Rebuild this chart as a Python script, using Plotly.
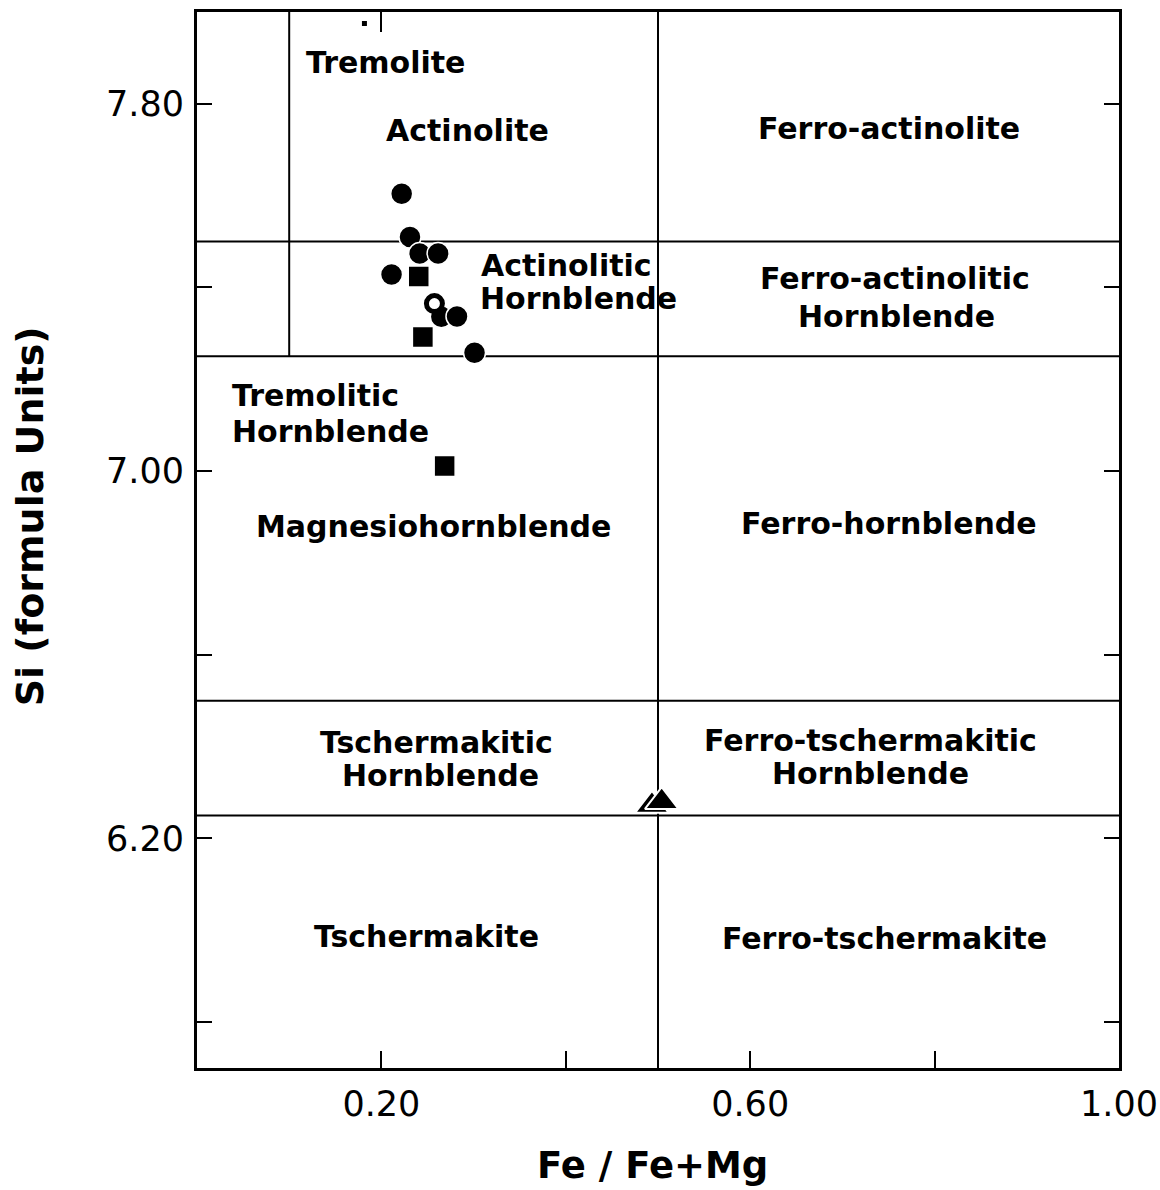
import plotly.graph_objects as go

# ---- data ----
circle_fe = [0.222, 0.231, 0.2415, 0.2615, 0.211, 0.265, 0.282, 0.301]
circle_si = [7.604, 7.510, 7.474, 7.474, 7.428, 7.336, 7.337, 7.258]
open_fe = [0.2575]
open_si = [7.365]
square_fe = [0.2405, 0.245, 0.2686]
square_si = [7.424, 7.292, 7.011]
triangle_fe = [0.4934, 0.504]
triangle_si = [6.272, 6.280]
small_fe = [0.1816]
small_si = [7.975]

si_bounds = [7.5, 7.25, 6.5, 6.25]
fe_bound = 0.5
trem_fe = 0.1
trem_si_range = [7.25, 8.0]
x_range = [0.0, 1.0]
y_range = [5.7, 8.0]

x_tickvals = [0.2, 0.4, 0.6, 0.8, 1.0]
x_ticktext = ["0.20", "", "0.60", "", "1.00"]
y_tickvals = [5.8, 6.2, 6.6, 7.0, 7.4, 7.8]
y_ticktext = ["", "6.20", "", "7.00", "", "7.80"]

# label text, x, y, anchor
labels = [
    ("Tremolite", 0.204, 7.890, "center"),
    ("Actinolite", 0.293, 7.742, "center"),
    ("Ferro-actinolite", 0.750, 7.747, "center"),
    ("Actinolitic", 0.306, 7.448, "left"),
    ("Hornblende", 0.305, 7.377, "left"),
    ("Ferro-actinolitic", 0.757, 7.420, "center"),
    ("Hornblende", 0.759, 7.337, "center"),
    ("Tremolitic", 0.036, 7.165, "left"),
    ("Hornblende", 0.036, 7.087, "left"),
    ("Magnesiohornblende", 0.257, 6.880, "center"),
    ("Ferro-hornblende", 0.750, 6.887, "center"),
    ("Tschermakitic", 0.260, 6.410, "center"),
    ("Hornblende", 0.264, 6.338, "center"),
    ("Ferro-tschermakitic", 0.730, 6.414, "center"),
    ("Hornblende", 0.731, 6.342, "center"),
    ("Tschermakite", 0.249, 5.986, "center"),
    ("Ferro-tschermakite", 0.746, 5.983, "center"),
]

fig = go.Figure()
line_style = dict(color="black", width=2)

# boundary lines
for s in si_bounds:
    fig.add_trace(go.Scatter(x=x_range, y=[s, s], mode="lines", line=line_style,
                             hoverinfo="skip", showlegend=False))
fig.add_trace(go.Scatter(x=[fe_bound, fe_bound], y=y_range, mode="lines", line=line_style,
                         hoverinfo="skip", showlegend=False))
fig.add_trace(go.Scatter(x=[trem_fe, trem_fe], y=trem_si_range, mode="lines", line=line_style,
                         hoverinfo="skip", showlegend=False))

# data points
fig.add_trace(go.Scatter(x=circle_fe, y=circle_si, mode="markers",
                         marker=dict(symbol="circle", size=22, color="black",
                                     line=dict(color="white", width=1.5)),
                         showlegend=False))
fig.add_trace(go.Scatter(x=open_fe, y=open_si, mode="markers",
                         marker=dict(symbol="circle", size=16, color="white",
                                     line=dict(color="black", width=5)),
                         showlegend=False))
fig.add_trace(go.Scatter(x=square_fe, y=square_si, mode="markers",
                         marker=dict(symbol="square", size=21, color="black",
                                     line=dict(color="white", width=1.5)),
                         showlegend=False))
fig.add_trace(go.Scatter(x=triangle_fe, y=triangle_si, mode="markers",
                         marker=dict(symbol="triangle-up", size=29, color="black",
                                     line=dict(color="white", width=2)),
                         showlegend=False))
fig.add_trace(go.Scatter(x=small_fe, y=small_si, mode="markers", xaxis="x2",
                         marker=dict(symbol="square", size=5, color="black"),
                         showlegend=False))

for text, x, y, anchor in labels:
    fig.add_annotation(x=x, y=y, text=text, showarrow=False, xanchor=anchor,
                       yanchor="middle",
                       font=dict(family="DejaVu Sans", size=30, color="black", weight="bold"))

# axis titles
fig.add_annotation(x=0.494, y=-0.092, xref="paper", yref="paper", text="Fe / Fe+Mg",
                   showarrow=False, xanchor="center", yanchor="middle",
                   font=dict(family="DejaVu Sans", size=37, color="black", weight="bold"))
fig.add_annotation(x=-0.181, y=0.5225, xref="paper", yref="paper", text="Si (formula Units)",
                   showarrow=False, textangle=-90, xanchor="center", yanchor="middle",
                   font=dict(family="DejaVu Sans", size=38, color="black", weight="bold"))

tickfont = dict(family="DejaVu Sans", size=35, color="black")
fig.update_layout(
    width=1160, height=1190,
    margin=dict(l=197, r=41, t=12, b=122, autoexpand=False),
    paper_bgcolor="white", plot_bgcolor="white",
    xaxis=dict(range=x_range, tickvals=x_tickvals, ticktext=x_ticktext,
               ticks="inside", ticklen=17, tickwidth=2, tickcolor="black",
               showline=True, linecolor="black", linewidth=3, mirror=True,
               showgrid=False, zeroline=False, tickfont=tickfont,
               ticklabelstandoff=3, automargin=False),
    xaxis2=dict(range=x_range, overlaying="x", side="top", tickvals=[0.2],
                ticks="inside", ticklen=20, tickwidth=2, tickcolor="black",
                showticklabels=False, showline=False, showgrid=False, zeroline=False,
                automargin=False),
    yaxis=dict(range=y_range, tickvals=y_tickvals, ticktext=y_ticktext,
               ticks="inside", ticklen=15, tickwidth=2, tickcolor="black",
               showline=True, linecolor="black", linewidth=3, mirror="ticks",
               showgrid=False, zeroline=False, tickfont=tickfont,
               ticklabelstandoff=3, automargin=False),
)

fig.write_html("out.html")
